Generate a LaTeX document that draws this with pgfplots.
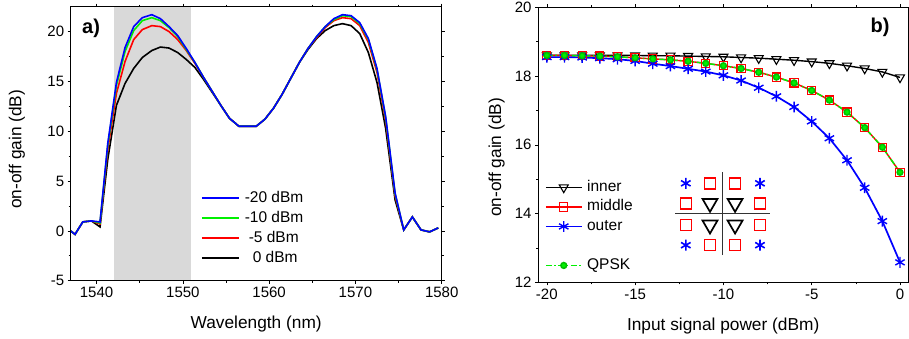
\documentclass[border=0pt]{standalone}
\usepackage{fontspec}
\setmainfont{Liberation Sans}
\usepackage{pgfplots}
\usepackage{pgfplotstable}
\pgfplotsset{compat=1.18}
\definecolor{pgreen}{RGB}{0,240,0}
\definecolor{shade}{RGB}{217,217,217}
\newcommand{\labfont}{\fontsize{17.3}{20}\selectfont}

\pgfplotstableread{
x      m20   m10   m5    p0
1537.0 0.0   0.0   0.0   0.0
1537.5 -0.35 -0.35 -0.35 -0.35
1538.4 0.9   0.9   0.9   0.9
1539.4 1.0   1.0   1.0   1.0
1540.4 0.9   0.8   0.7   0.4
1541.3 8.8   8.6   8.2   7.2
1542.3 14.9  14.6  13.8  12.6
1543.3 18.4  18.0  17.0  14.8
1544.3 20.5  20.1  19.2  16.3
1545.3 21.4  21.1  20.2  17.4
1546.4 21.7  21.4  20.6  18.1
1547.4 21.3  21.1  20.5  18.45
1548.4 20.5  20.4  20.0  18.35
1549.4 19.6  19.5  19.2  17.9
1550.4 18.3  18.2  18.1  17.2
1551.4 16.9  16.9  16.8  16.4
1552.4 15.4  15.4  15.4  15.2
1553.4 14.0  14.0  14.0  13.9
1554.4 12.6  12.6  12.6  12.6
1555.4 11.3  11.3  11.3  11.3
1556.5 10.5  10.5  10.5  10.5
1557.5 10.5  10.5  10.5  10.5
1558.5 10.5  10.5  10.5  10.5
1559.5 11.2  11.2  11.2  11.2
1560.5 12.3  12.3  12.3  12.3
1561.5 13.7  13.7  13.7  13.7
1562.5 15.3  15.3  15.3  15.3
1563.5 16.9  16.9  16.9  16.9
1564.5 18.3  18.3  18.3  18.2
1565.5 19.5  19.5  19.4  19.3
1566.5 20.5  20.5  20.4  20.1
1567.5 21.3  21.2  21.1  20.6
1568.5 21.7  21.6  21.4  20.8
1569.5 21.6  21.5  21.3  20.6
1570.5 20.9  20.8  20.6  19.8
1571.5 19.3  19.2  18.9  17.9
1572.5 16.3  16.2  15.9  14.9
1573.5 11.5  11.4  11.1  10.3
1574.6 3.8   3.7   3.5   3.1
1575.6 0.1   0.1   0.1   0.1
1576.6 1.4   1.4   1.4   1.4
1577.6 0.1   0.1   0.1   0.1
1578.6 -0.1  -0.1  -0.1  -0.1
1579.6 0.3   0.3   0.3   0.3
}\spectra

\pgfplotstableread{
p    inner  middle outer
-20  18.60  18.60  18.55
-19  18.60  18.60  18.55
-18  18.60  18.59  18.54
-17  18.60  18.58  18.52
-16  18.60  18.56  18.49
-15  18.60  18.53  18.44
-14  18.59  18.50  18.36
-13  18.59  18.47  18.29
-12  18.58  18.43  18.21
-11  18.57  18.37  18.13
-10  18.56  18.30  18.02
-9   18.54  18.22  17.87
-8   18.52  18.11  17.66
-7   18.49  17.97  17.41
-6   18.46  17.80  17.10
-5   18.42  17.58  16.68
-4   18.37  17.30  16.19
-3   18.30  16.95  15.55
-2   18.22  16.50  14.75
-1   18.12  15.93  13.78
0    17.96  15.20  12.58
}\gain

\pgfplotsset{
  every axis/.append style={
    scale only axis,
    anchor=south west,
    tick align=outside,
    major tick length=3pt,
    minor tick length=2pt,
    every tick/.style={black, line width=0.6pt},
    axis line style={line width=0.8pt},
    xticklabel style={font=\fontsize{15}{18}\selectfont},
    yticklabel style={font=\fontsize{15}{18}\selectfont},
    /pgf/number format/assume math mode=true,
    /pgf/number format/1000 sep={},
    clip=true,
  }
}

\begin{document}
\begin{tikzpicture}[x=1pt,y=1pt]
\path[use as bounding box] (0,0) rectangle (909,338);

% ---------------- panel a ----------------
\begin{axis}[
  at={(70.7pt,57.3pt)}, width=371pt, height=274pt,
  xmin=1537, xmax=1580, ymin=-5, ymax=22.5,
  xtick={1540,1550,...,1580}, ytick={-5,0,...,20},
  minor x tick num=1, minor y tick num=1,
  xlabel={\labfont Wavelength (nm)}, ylabel={\labfont on-off gain (dB)},
  xlabel style={at={(axis description cs:0.5,-0.157)}, anchor=center},
  ylabel style={at={(axis description cs:-0.145,0.48)}, anchor=center},
  axis on top,
  legend style={draw=none, fill=none, at={(0.343,0.339)}, anchor=north west,
    font=\fontsize{15.5}{18}\selectfont, row sep=4pt,
    nodes={inner sep=0pt, text height=12pt, text depth=4pt},
    /tikz/every odd column/.append style={column sep=5pt}},
  legend cell align=left,
  reverse legend,
  legend image code/.code={\draw[#1] (0pt,0pt) -- (37pt,0pt);},
]
\addplot[fill=shade, draw=none, forget plot] coordinates {(1542,-5) (1551,-5) (1551,22.5) (1542,22.5)} -- cycle;
\addplot[black, line width=1.6pt] table[x=x, y=p0] {\spectra};
\addlegendentry{\hspace{8pt}0 dBm}
\addplot[red, line width=1.6pt] table[x=x, y=m5] {\spectra};
\addlegendentry{\hspace{4pt}-5 dBm}
\addplot[pgreen, line width=1.6pt] table[x=x, y=m10] {\spectra};
\addlegendentry{-10 dBm}
\addplot[blue, line width=1.6pt] table[x=x, y=m20] {\spectra};
\addlegendentry{-20 dBm}
\node[font=\bfseries\fontsize{20}{24}\selectfont] at (rel axis cs:0.055,0.922) {a)};
\end{axis}

% ---------------- panel b ----------------
\begin{axis}[
  at={(538pt,55.7pt)}, width=370.3pt, height=275pt,
  xmin=-20.5, xmax=0.47, ymin=12, ymax=20,
  xtick={-20,-15,...,0}, ytick={12,14,...,20},
  minor x tick num=1, minor y tick num=1,
  xlabel={\labfont Input signal power (dBm)}, ylabel={\labfont on-off gain (dB)},
  xlabel style={at={(axis description cs:0.5,-0.158)}, anchor=center},
  ylabel style={at={(axis description cs:-0.1115,0.454)}, anchor=center},
  legend style={draw=none, fill=none, at={(0.01,0.382)}, anchor=north west,
    font=\fontsize{15.5}{18}\selectfont, row sep=3.5pt,
    nodes={inner sep=0pt, text height=12pt, text depth=4pt},
    /tikz/every odd column/.append style={column sep=4.5pt}},
  legend cell align=left,
  legend image code/.code={\draw[mark repeat=2, mark phase=2, #1] plot coordinates {(0pt,0pt) (18pt,0pt) (36pt,0pt)};},
]
\addplot[black, line width=1.4pt, mark=triangle, mark size=5.2pt,
  mark options={rotate=180, fill=white, solid, line width=1.1pt}] table[x=p, y=inner] {\gain};
\addlegendentry{inner}
\addplot[red, line width=1.4pt, mark=square, mark size=4.1pt,
  mark options={fill=white, solid, line width=1.1pt}] table[x=p, y=middle] {\gain};
\addlegendentry{middle}
\addplot[blue, line width=1.7pt, mark=asterisk, mark size=5.4pt,
  mark options={solid, line width=1.4pt}] table[x=p, y=outer] {\gain};
\addlegendentry{outer}
\addlegendimage{empty legend}
\addlegendentry{\vphantom{Qp}}
\addplot[pgreen, line width=1.5pt, dash pattern={on 6pt off 2.5pt on 1.5pt off 2.5pt}, mark=*, mark size=2.9pt,
  mark options={solid, fill=pgreen, draw=pgreen!80!black}] table[x=p, y=middle] {\gain};
\addlegendentry{QPSK}

% constellation inset
\addplot[black!80, line width=1pt, forget plot] coordinates {(-10.05,12.79) (-10.05,15.22)};
\addplot[black!80, line width=1pt, forget plot] coordinates {(-12.74,14.0) (-7.36,14.0)};
\addplot[only marks, blue, mark=asterisk, mark size=5.5pt, mark options={line width=1.6pt}, forget plot]
  coordinates {(-12.13,14.88) (-7.93,14.88) (-12.13,13.08) (-7.93,13.08)};
\addplot[only marks, red, mark=square, mark size=5.5pt, mark options={line width=1.6pt, fill=white}, forget plot]
  coordinates {(-10.76,14.88) (-9.34,14.88) (-12.13,14.30) (-7.93,14.30) (-12.13,13.67) (-7.93,13.67) (-10.76,13.08) (-9.34,13.08)};
\addplot[only marks, black, mark=triangle, mark size=8.6pt, mark options={rotate=180, line width=1.7pt, fill=white}, forget plot]
  coordinates {(-10.76,14.30) (-9.34,14.30) (-10.76,13.67) (-9.34,13.67)};
\node[font=\bfseries\fontsize{20}{24}\selectfont] at (rel axis cs:0.9236,0.928) {b)};
\end{axis}
\end{tikzpicture}
\end{document}
